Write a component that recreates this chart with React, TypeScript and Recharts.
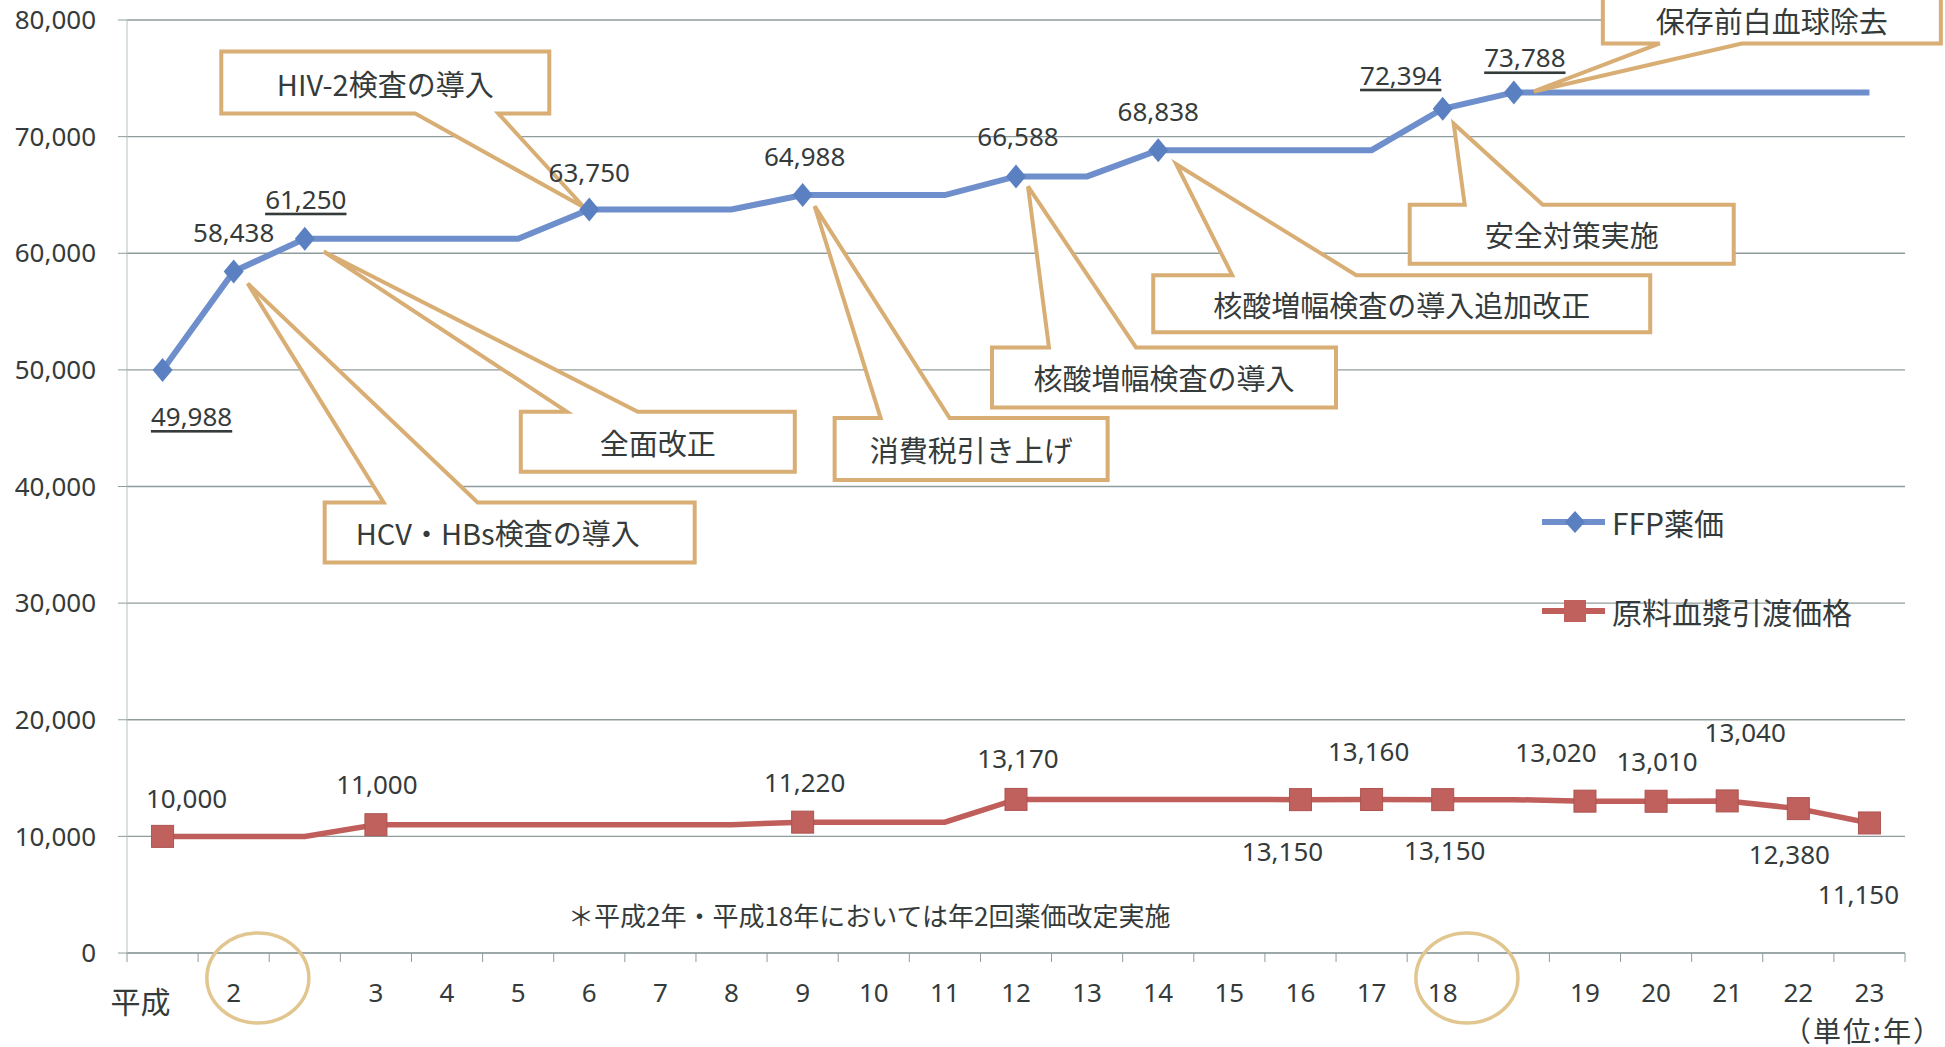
import React from "react";
import {
  LineChart,
  Line,
  XAxis,
  YAxis,
  CartesianGrid,
  Legend,
  LabelList,
  ReferenceDot,
} from "recharts";

// 平成 years; 2 and 18 appear twice (two price revisions in those years)
const years = ["1", "2", "2", "3", "4", "5", "6", "7", "8", "9", "10", "11", "12", "13", "14", "15", "16", "17", "18", "18", "19", "20", "21", "22", "23"];
const tickLabels = ["平成", "2", "", "3", "4", "5", "6", "7", "8", "9", "10", "11", "12", "13", "14", "15", "16", "17", "18", "", "19", "20", "21", "22", "23"];

const ffpPrice = [49988, 58438, 61250, 61250, 61250, 61250, 63750, 63750, 63750, 64988, 64988, 64988, 66588, 66588, 68838, 68838, 68838, 68838, 72394, 73788, 73788, 73788, 73788, 73788, 73788];
const plasmaPrice = [10000, 10000, 10000, 11000, 11000, 11000, 11000, 11000, 11000, 11220, 11220, 11220, 13170, 13170, 13170, 13170, 13150, 13160, 13150, 13150, 13020, 13010, 13040, 12380, 11150];

// points that carry a marker + value label
const ffpMarked = [0, 1, 2, 6, 9, 12, 14, 18, 19];
const plasmaMarked = [0, 3, 9, 12, 16, 17, 18, 20, 21, 22, 23, 24];
const ffpUnderlined = [0, 2, 18, 19];

const yTicks = [0, 10000, 20000, 30000, 40000, 50000, 60000, 70000, 80000];

// ---- layout / style ----
const W = 1945;
const H = 1047;
const MARGIN = { top: 20, right: 40, bottom: 34, left: 17 };
const Y_AXIS_W = 110;
const PLOT_W = W - MARGIN.left - MARGIN.right - Y_AXIS_W;
const STEP = PLOT_W / years.length;

const TEXT = "#353b3b";
const GRID = "#8f9c9c";
const FFP_COLOR = "#6e8fcb";
const FFP_MARK = "#5b80c2";
const PLASMA_COLOR = "#c05e5b";
const PLASMA_MARK = "#c0615e";
const CALLOUT = "#d8ae74";
const CIRCLE = "#e2c690";
const NUM_FONT = '"Noto Sans", sans-serif';
const JP_FONT = '"Noto Sans CJK JP", sans-serif';

// label offsets (px) from the point, text centre
const ffpLabelOffset: Record<number, [number, number]> = {
  0: [29, 46], 1: [0, -39], 2: [1, -40], 6: [0, -38], 9: [2, -39],
  12: [2, -40], 14: [0, -39], 18: [-42, -34], 19: [11, -35],
};
const plasmaLabelOffset: Record<number, [number, number]> = {
  0: [24, -38], 3: [1, -41], 9: [2, -40], 12: [2, -41], 16: [-18, 51],
  17: [-3, -49], 18: [2, 50], 20: [-29, -49], 21: [1, -40], 22: [18, -69],
  23: [-9, 45], 24: [-11, 71],
};

interface CalloutSpec {
  text: string;
  at: number;
  side: "top" | "bottom";
  box: [number, number, number, number];
  base: [number, number];
  tip: [number, number];
  textShift?: [number, number];
}

// callout boxes, relative to the FFP point they point at
const callouts: CalloutSpec[] = [
  { text: "HIV-2検査の導入", at: 6, side: "bottom", box: [-368, -158, 328, 62], base: [-174, -91], tip: [-5, -2] },
  { text: "HCV・HBs検査の導入", at: 1, side: "top", box: [91, 231, 370, 60], base: [150, 244], tip: [14, 12], textShift: [-12, 0] },
  { text: "全面改正", at: 2, side: "top", box: [216, 173, 274, 60], base: [262, 333], tip: [19, 13] },
  { text: "消費税引き上げ", at: 9, side: "top", box: [32, 223, 273, 62], base: [78, 147], tip: [12, 11] },
  { text: "核酸増幅検査の導入", at: 12, side: "top", box: [-24, 171, 344, 60], base: [33, 120], tip: [12, 10] },
  { text: "核酸増幅検査の導入追加改正", at: 14, side: "top", box: [-5, 125, 497, 57], base: [74, 198], tip: [18, 14] },
  { text: "安全対策実施", at: 18, side: "top", box: [-33, 96, 324, 59], base: [22, 100], tip: [11, 15] },
  { text: "保存前白血球除去", at: 19, side: "bottom", box: [89, -105, 338, 56], base: [146, 228], tip: [20, -1], textShift: [0, 5] },
];

// circles around the doubled years on the axis (axis units)
const yearCircles = [1.84, 18.84];

const chartData = years.map((year, i) => ({
  x: i + 0.5,
  year,
  ffp: ffpPrice[i],
  plasma: plasmaPrice[i],
}));

const xBoundaries = [...years.map((_, i) => i), years.length];

const fmt = (v: number) => v.toLocaleString("en-US");

function YearTick(props: any) {
  const { x, y, payload } = props;
  const i = Math.round(payload.value);
  const label = tickLabels[i];
  if (!label) return <g />;
  const first = i === 0;
  return (
    <text
      x={x + STEP / 2 + (first ? -22 : 0)}
      y={y + (first ? 32 : 24)}
      textAnchor="middle"
      dominantBaseline="central"
      fontSize={first ? 30 : 26}
      fontFamily={first ? JP_FONT : NUM_FONT}
      fill={TEXT}
    >
      {label}
    </text>
  );
}

function FfpDot(props: any) {
  const { cx, cy, index } = props;
  if (!ffpMarked.includes(index) || cx == null) return <g key={`fd${index}`} />;
  return (
    <polygon
      key={`fd${index}`}
      points={`${cx},${cy - 12} ${cx + 10},${cy} ${cx},${cy + 12} ${cx - 10},${cy}`}
      fill={FFP_MARK}
    />
  );
}

function PlasmaDot(props: any) {
  const { cx, cy, index } = props;
  if (!plasmaMarked.includes(index) || cx == null) return <g key={`pd${index}`} />;
  return (
    <rect
      key={`pd${index}`}
      x={cx - 11}
      y={cy - 11}
      width={22}
      height={22}
      fill={PLASMA_MARK}
      stroke="#ad5350"
      strokeWidth={1}
    />
  );
}

const makeLabel =
  (offsets: Record<number, [number, number]>, underlined: number[]) =>
  (props: any) => {
    const { x, y, value, index } = props;
    const off = offsets[index];
    if (!off) return null;
    return (
      <text
        key={`l${index}`}
        x={x + off[0]}
        y={y + off[1]}
        textAnchor="middle"
        dominantBaseline="central"
        fontSize={26}
        fontFamily={NUM_FONT}
        fill={TEXT}
        style={underlined.includes(index) ? { textDecoration: "underline" } : undefined}
      >
        {fmt(value)}
      </text>
    );
  };

function Callout({ cx, cy, c }: { cx: number; cy: number; c: CalloutSpec }) {
  const [bx, by, bw, bh] = c.box;
  const x1 = cx + bx;
  const y1 = cy + by;
  const x2 = x1 + bw;
  const y2 = y1 + bh;
  const w1 = cx + c.base[0];
  const w2 = cx + c.base[1];
  const tx = cx + c.tip[0];
  const ty = cy + c.tip[1];
  const shift = c.textShift ?? [0, 0];
  const pts =
    c.side === "top"
      ? [[x1, y1], [w1, y1], [tx, ty], [w2, y1], [x2, y1], [x2, y2], [x1, y2]]
      : [[x1, y1], [x2, y1], [x2, y2], [w2, y2], [tx, ty], [w1, y2], [x1, y2]];
  return (
    <g>
      <polygon
        points={pts.map((p) => p.join(",")).join(" ")}
        fill="#ffffff"
        stroke={CALLOUT}
        strokeWidth={4}
      />
      <text
        x={(x1 + x2) / 2 + shift[0]}
        y={(y1 + y2) / 2 + shift[1]}
        textAnchor="middle"
        dominantBaseline="central"
        fontSize={29}
        fontFamily={JP_FONT}
        fill={TEXT}
      >
        {c.text}
      </text>
    </g>
  );
}

const legendItems = [
  { name: "FFP薬価", color: FFP_COLOR, mark: "diamond" },
  { name: "原料血漿引渡価格", color: PLASMA_COLOR, mark: "square" },
];

function LegendContent() {
  return (
    <div style={{ fontFamily: JP_FONT, fontSize: 30, color: TEXT }}>
      {legendItems.map((it, i) => (
        <div
          key={it.name}
          style={{ display: "flex", alignItems: "center", height: 34, marginTop: i ? 55 : 0 }}
        >
          <svg width={72} height={34}>
            <line x1={2} y1={17} x2={65} y2={17} stroke={it.color} strokeWidth={6} />
            {it.mark === "diamond" ? (
              <polygon points="35,6 45,17 35,28 25,17" fill={FFP_MARK} />
            ) : (
              <rect x={24} y={6} width={22} height={22} fill={PLASMA_MARK} />
            )}
          </svg>
          <span style={{ lineHeight: "34px", whiteSpace: "nowrap" }}>{it.name}</span>
        </div>
      ))}
    </div>
  );
}

export default function App() {
  return (
    <div style={{ position: "absolute", left: 0, top: 0, width: W, height: H, background: "#fff" }}>
      <LineChart width={W} height={H} data={chartData} margin={MARGIN}>
        <CartesianGrid vertical={false} stroke={GRID} strokeWidth={1.3} />
        <XAxis
          type="number"
          dataKey="x"
          domain={[0, years.length]}
          ticks={xBoundaries}
          interval={0}
          height={60}
          tickSize={9}
          tickMargin={6}
          stroke={GRID}
          tick={YearTick}
        />
        <YAxis
          domain={[0, 80000]}
          ticks={yTicks}
          width={Y_AXIS_W}
          tickSize={9}
          tickMargin={22}
          axisLine={{ stroke: "#b7c0c0" }}
          tickLine={{ stroke: GRID }}
          tickFormatter={fmt}
          tick={{ fontSize: 26, fontFamily: NUM_FONT, fill: TEXT }}
        />
        {callouts.map((c) => (
          <ReferenceDot
            key={c.text}
            x={c.at + 0.5}
            y={ffpPrice[c.at]}
            ifOverflow="visible"
            shape={(p: any) => <Callout cx={p.cx} cy={p.cy} c={c} />}
          />
        ))}
        {yearCircles.map((xv) => (
          <ReferenceDot
            key={`c${xv}`}
            x={xv}
            y={0}
            ifOverflow="visible"
            shape={(p: any) => (
              <ellipse cx={p.cx} cy={p.cy + 25} rx={51} ry={45} fill="none" stroke={CIRCLE} strokeWidth={3.5} />
            )}
          />
        ))}
        <Line
          dataKey="ffp"
          name="FFP薬価"
          stroke={FFP_COLOR}
          strokeWidth={6}
          dot={FfpDot}
          activeDot={false}
          isAnimationActive={false}
        >
          <LabelList dataKey="ffp" content={makeLabel(ffpLabelOffset, ffpUnderlined)} />
        </Line>
        <Line
          dataKey="plasma"
          name="原料血漿引渡価格"
          stroke={PLASMA_COLOR}
          strokeWidth={5.5}
          dot={PlasmaDot}
          activeDot={false}
          isAnimationActive={false}
        >
          <LabelList dataKey="plasma" content={makeLabel(plasmaLabelOffset, [])} />
        </Line>
        <Legend
          layout="vertical"
          align="center"
          verticalAlign="middle"
          content={LegendContent}
          wrapperStyle={{ left: 1540, top: 505, width: 400 }}
        />
      </LineChart>
      <div
        style={{
          position: "absolute",
          left: 568,
          top: 897,
          fontFamily: JP_FONT,
          fontSize: 26,
          lineHeight: "36px",
          color: TEXT,
          whiteSpace: "nowrap",
        }}
      >
        ＊平成2年・平成18年においては年2回薬価改定実施
      </div>
      <div
        style={{
          position: "absolute",
          left: 1863,
          top: 1030,
          transform: "translate(-50%, -50%)",
          fontFamily: JP_FONT,
          fontSize: 28,
          lineHeight: "30px",
          letterSpacing: 2,
          color: TEXT,
          whiteSpace: "nowrap",
        }}
      >
        （単位:年）
      </div>
    </div>
  );
}
